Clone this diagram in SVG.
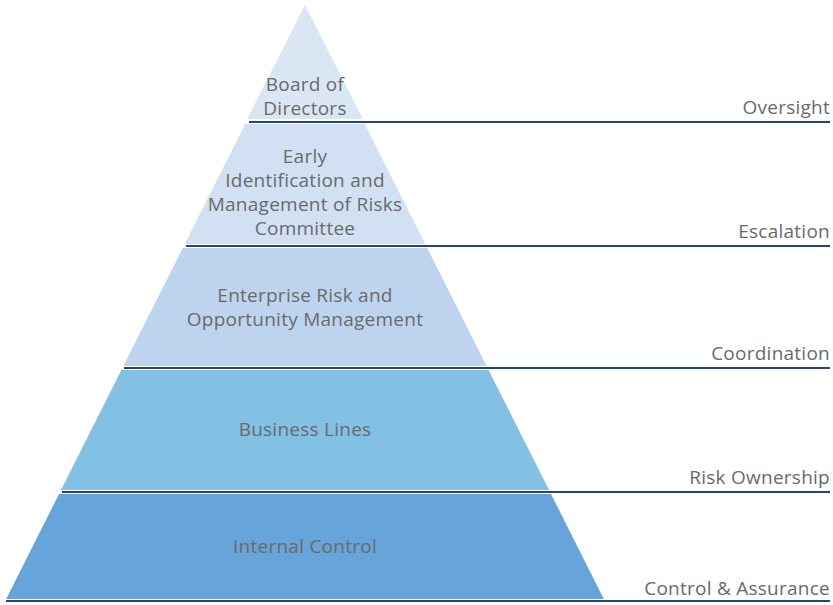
<svg xmlns="http://www.w3.org/2000/svg" width="833" height="605" viewBox="0 0 833 605">
<style>
.t{font-family:"Open Sans","Liberation Sans",sans-serif;font-size:19px;letter-spacing:0.25px;fill:#6a6a6a;text-anchor:middle}
.r{font-family:"Open Sans","Liberation Sans",sans-serif;font-size:19px;letter-spacing:0.25px;fill:#6a6a6a;text-anchor:end}
.ln{stroke:#27466f;stroke-width:2;fill:none}
</style>
<rect width="833" height="605" fill="#fff"/>
<g id="layer1">
<polygon points="305,5 362.8,119 247.2,119" fill="#dbe6f4"/>
<text class="t" x="305" y="91">Board of</text>
<text class="t" x="305" y="115">Directors</text>
</g>
<g id="layer2">
<polygon points="245.2,124 364.8,124 425.2,244 184.8,244" fill="#d2e0f3"/>
<text class="t" x="305" y="163">Early</text>
<text class="t" x="305" y="187">Identification and</text>
<text class="t" x="305" y="211">Management of Risks</text>
<text class="t" x="305" y="235">Committee</text>
</g>
<g id="layer3">
<polygon points="182.8,248 427.2,248 486.6,366 123.4,366" fill="#bed3ee"/>
<text class="t" x="305" y="302">Enterprise Risk and</text>
<text class="t" x="305" y="326">Opportunity Management</text>
</g>
<g id="layer4">
<polygon points="121.4,370 488.6,370 549,490 61,490" fill="#82c0e4"/>
<text class="t" x="305" y="436">Business Lines</text>
</g>
<g id="layer5">
<polygon points="59,494 551,494 603.8,599 6.2,599" fill="#66a4d9"/>
<text class="t" x="305" y="553">Internal Control</text>
</g>
<g id="connectors">
<line class="ln" x1="249" y1="122" x2="830" y2="122"/>
<line class="ln" x1="186" y1="246" x2="830" y2="246"/>
<line class="ln" x1="124" y1="368" x2="830" y2="368"/>
<line class="ln" x1="62" y1="492" x2="830" y2="492"/>
<line class="ln" x1="6" y1="601" x2="830" y2="601"/>
</g>
<g id="labels">
<text class="r" x="830" y="114">Oversight</text>
<text class="r" x="830" y="238">Escalation</text>
<text class="r" x="830" y="360">Coordination</text>
<text class="r" x="830" y="484">Risk Ownership</text>
<text class="r" x="830" y="595">Control &amp; Assurance</text>
</g>
</svg>
